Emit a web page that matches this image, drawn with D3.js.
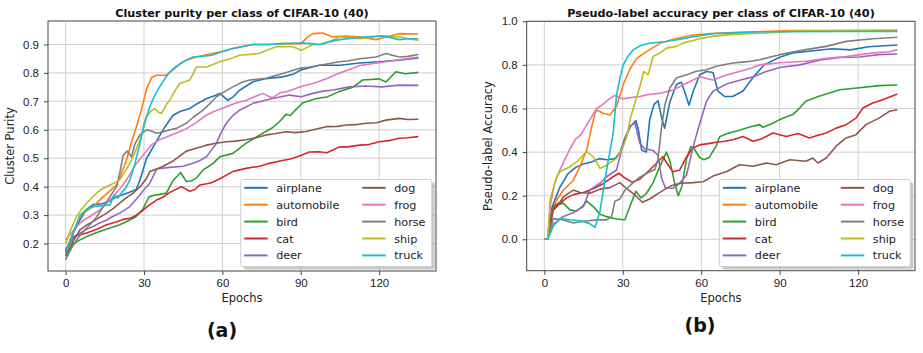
<!DOCTYPE html>
<html>
<head>
<meta charset="utf-8">
<script src="https://cdn.jsdelivr.net/npm/d3@7"></script>
<style>
  body { margin: 0; background: #fff; }
  svg { font-family: "DejaVu Sans", sans-serif; }
</style>
</head>
<body>
<div id="chart"></div>
<script>
// class names and tab10 colours
const classes = ["airplane", "automobile", "bird", "cat", "deer", "dog", "frog", "horse", "ship", "truck"];
const colors = ["#1f77b4", "#ff7f0e", "#2ca02c", "#d62728", "#9467bd", "#8c564b", "#e377c2", "#7f7f7f", "#bcbd22", "#17becf"];
const xTicks = [0, 30, 60, 90, 120];
const purityTicks = [0.2, 0.3, 0.4, 0.5, 0.6, 0.7, 0.8, 0.9];
const accTicks = [0.0, 0.2, 0.4, 0.6, 0.8, 1.0];

// (a) cluster purity, [epoch, value]
const purAirplane = [[0,0.17],[3,0.24],[5.5,0.283],[8,0.32],[10.5,0.337],[14,0.34],[17,0.35],[19.5,0.365],[23,0.375],[27,0.39],[28.5,0.425],[31,0.5],[34.8,0.56],[38,0.61],[41,0.65],[44,0.665],[47.5,0.675],[50,0.69],[54,0.71],[57,0.72],[59,0.728],[62,0.704],[64,0.715],[66.6,0.739],[71.7,0.769],[76.8,0.78],[83,0.786],[87,0.795],[90,0.81],[97,0.827],[105,0.827],[112.5,0.835],[120,0.839],[127.7,0.845],[135,0.853]];
const purAutomobile = [[0,0.175],[3,0.24],[5.5,0.295],[8,0.315],[10.5,0.33],[14.4,0.365],[17,0.385],[19.5,0.406],[21.5,0.45],[23.3,0.494],[25,0.55],[27.1,0.611],[29,0.67],[31,0.745],[33,0.785],[34.8,0.792],[38.6,0.792],[41,0.81],[43.5,0.83],[46.2,0.845],[50,0.856],[56,0.868],[60,0.875],[64,0.886],[71.7,0.9],[78,0.9],[83,0.903],[90,0.903],[92.5,0.925],[94.6,0.938],[98.4,0.94],[102,0.927],[107,0.93],[112,0.927],[118.8,0.917],[124,0.93],[127.7,0.938],[135,0.937]];
const purBird = [[0,0.16],[3,0.2],[5.5,0.213],[9,0.228],[13,0.242],[17,0.255],[20.7,0.266],[24,0.28],[27,0.295],[29.5,0.32],[32,0.365],[34,0.37],[36,0.373],[38.6,0.378],[41,0.42],[44,0.45],[46.2,0.418],[48,0.42],[50,0.43],[52.6,0.459],[54.5,0.47],[56.4,0.482],[59,0.505],[64,0.517],[69,0.552],[74,0.58],[79.3,0.608],[82,0.63],[84.4,0.655],[86,0.65],[88,0.67],[90.8,0.695],[96,0.71],[100,0.715],[104.8,0.735],[110,0.75],[113.7,0.775],[120,0.779],[122.6,0.768],[126.4,0.804],[130,0.797],[135,0.802]];
const purCat = [[0,0.17],[3,0.225],[8,0.237],[12,0.25],[15.7,0.266],[19,0.275],[22,0.285],[25,0.29],[27.1,0.3],[29.7,0.318],[32,0.335],[34.8,0.353],[37,0.362],[39.9,0.38],[44.3,0.4],[47.5,0.384],[49.5,0.39],[51.3,0.406],[54,0.41],[56,0.415],[59,0.428],[64,0.453],[66.6,0.459],[70,0.466],[74.3,0.472],[78,0.482],[82,0.49],[86,0.497],[89.5,0.508],[93.3,0.522],[97,0.523],[100,0.519],[104.8,0.54],[108,0.54],[112.5,0.546],[116,0.548],[120,0.558],[124,0.562],[127.7,0.57],[131,0.572],[135,0.576]];
const purDeer = [[0,0.18],[3,0.22],[5.5,0.237],[8,0.25],[10.5,0.26],[13,0.272],[15.7,0.283],[18,0.295],[20.7,0.307],[24.6,0.33],[28.4,0.371],[30,0.39],[32.2,0.412],[34.8,0.462],[37,0.465],[39.9,0.468],[44.9,0.472],[48.8,0.482],[51,0.49],[53.9,0.505],[55.5,0.525],[57.7,0.552],[59.5,0.59],[61.5,0.623],[64,0.65],[66.6,0.669],[71.7,0.693],[76,0.703],[79.3,0.71],[85.7,0.722],[90.2,0.716],[94.6,0.728],[98,0.735],[102.3,0.74],[108.6,0.751],[115,0.754],[121,0.751],[127.7,0.757],[135,0.756]];
const purDog = [[0,0.155],[3,0.21],[5.5,0.248],[8,0.265],[10.5,0.277],[13,0.292],[15.7,0.307],[18,0.322],[20.7,0.342],[23,0.36],[25.8,0.377],[28.5,0.4],[31,0.43],[32.2,0.453],[34.8,0.462],[37,0.47],[41.1,0.49],[44,0.51],[46.2,0.525],[50,0.535],[53.9,0.546],[57,0.552],[61.5,0.558],[65,0.56],[69,0.565],[72,0.57],[76.8,0.582],[80,0.586],[84.4,0.593],[88,0.59],[92,0.594],[96,0.603],[99.7,0.611],[104,0.612],[107.4,0.617],[111,0.618],[115,0.623],[119,0.625],[122.6,0.634],[127.7,0.64],[131,0.636],[135,0.637]];
const purFrog = [[0,0.213],[2,0.235],[4.2,0.26],[6.5,0.28],[9.3,0.295],[13.1,0.318],[15.5,0.34],[18.2,0.365],[21,0.395],[23.3,0.424],[25,0.45],[27,0.48],[30,0.515],[33,0.548],[36,0.565],[40,0.58],[45,0.598],[47.5,0.611],[50,0.625],[53.9,0.652],[57,0.665],[61.5,0.681],[65,0.693],[69.2,0.704],[72,0.715],[75.5,0.728],[78,0.716],[79.3,0.713],[82,0.73],[84.4,0.734],[90.2,0.752],[95.9,0.766],[100,0.78],[104.8,0.8],[107.4,0.808],[112.5,0.826],[120,0.836],[127.7,0.846],[135,0.856]];
const purHorse = [[0,0.143],[2,0.18],[4.2,0.213],[7,0.245],[9.3,0.266],[12,0.295],[14.4,0.33],[17,0.365],[19.5,0.4],[20.7,0.447],[22,0.51],[23.5,0.525],[25.2,0.505],[26.5,0.55],[28.4,0.582],[31,0.6],[33,0.595],[34.8,0.588],[37,0.592],[40,0.6],[42.4,0.605],[46.2,0.623],[49,0.645],[52.6,0.669],[55,0.69],[57.7,0.716],[61,0.735],[64,0.751],[67,0.765],[70.4,0.775],[76.8,0.781],[80,0.79],[83.2,0.798],[89.5,0.816],[93,0.82],[97.2,0.827],[104.8,0.839],[108,0.842],[112.5,0.85],[118.8,0.856],[122.6,0.868],[125,0.862],[127.7,0.856],[131,0.858],[135,0.865]];
const purShip = [[0,0.2],[2,0.25],[4.2,0.295],[6,0.32],[8,0.342],[10,0.36],[11.8,0.377],[13.5,0.39],[15.7,0.4],[18,0.41],[20.7,0.424],[22.5,0.45],[24.6,0.482],[26.5,0.52],[28.4,0.564],[30,0.61],[31,0.646],[32.5,0.665],[34.1,0.675],[35.5,0.662],[36.7,0.658],[38.6,0.69],[39.9,0.704],[42,0.74],[43.7,0.763],[47.5,0.775],[49,0.8],[50,0.821],[54,0.821],[59,0.839],[63,0.85],[66.6,0.862],[74,0.868],[77,0.88],[80.6,0.892],[87,0.892],[90.2,0.88],[92,0.888],[94.6,0.9],[98,0.9],[101,0.91],[104.8,0.927],[112.5,0.92],[116,0.925],[121.4,0.93],[127.7,0.927],[131,0.92],[135,0.914]];
const purTruck = [[0,0.165],[3,0.24],[5.5,0.3],[8,0.32],[10.5,0.33],[14,0.333],[17,0.336],[18.5,0.37],[20,0.36],[21.5,0.38],[23,0.395],[24.6,0.424],[26.5,0.48],[28.4,0.55],[30,0.62],[32.2,0.68],[34,0.72],[36,0.751],[38,0.78],[39.9,0.804],[42,0.82],[44.9,0.839],[48.8,0.856],[52,0.858],[56.4,0.863],[60,0.875],[64,0.886],[71.7,0.9],[78,0.9],[83,0.903],[90.8,0.905],[94,0.903],[97.2,0.9],[101,0.91],[104.8,0.917],[110,0.922],[115,0.927],[121.4,0.93],[124,0.925],[127.7,0.917],[131,0.92],[135,0.92]];

// (b) pseudo-label accuracy, [epoch, value]
const accAirplane = [[0,0],[1.3,0],[3,0.15],[6,0.24],[9,0.3],[12,0.33],[15,0.345],[18,0.355],[21,0.37],[24,0.365],[27,0.37],[29,0.4],[31,0.47],[33,0.52],[35,0.545],[36,0.5],[37.2,0.41],[39,0.4],[40.3,0.55],[42,0.62],[43.5,0.635],[45,0.55],[46,0.51],[48,0.63],[50.5,0.71],[52.4,0.72],[54.4,0.65],[55.3,0.615],[57,0.68],[59.4,0.755],[62,0.77],[64.5,0.765],[66.4,0.68],[69,0.655],[72,0.655],[76,0.68],[80,0.745],[84,0.8],[90,0.835],[95,0.855],[103,0.865],[110,0.874],[117,0.869],[124,0.883],[130,0.888],[135,0.891]];
const accAutomobile = [[0,0],[1.3,0],[2.2,0.104],[4.7,0.18],[7.3,0.226],[11,0.27],[13.6,0.333],[16.2,0.41],[18.1,0.517],[19.4,0.578],[20,0.593],[22.5,0.578],[25.1,0.57],[27.6,0.61],[30.2,0.71],[32.7,0.78],[35.3,0.83],[39.1,0.861],[44.2,0.899],[50,0.92],[56.9,0.937],[65,0.945],[75,0.95],[95,0.957],[115,0.958],[135,0.958]];
const accBird = [[0,0],[1.3,0],[2.2,0.11],[4.7,0.16],[7.3,0.165],[9.8,0.135],[12.4,0.13],[14.9,0.155],[16.2,0.175],[18.7,0.15],[21.3,0.115],[23.8,0.104],[27.6,0.093],[30.8,0.09],[33,0.16],[35,0.22],[37,0.19],[39,0.21],[41.6,0.26],[44,0.33],[46.7,0.4],[48,0.36],[50,0.25],[51.2,0.2],[52.5,0.24],[54.4,0.37],[56,0.425],[57,0.42],[59.4,0.375],[61,0.365],[63,0.375],[65.8,0.43],[67,0.47],[70,0.485],[74.6,0.5],[78.5,0.515],[82.3,0.526],[83.6,0.514],[87,0.53],[90,0.549],[95,0.572],[97.6,0.602],[100,0.633],[105,0.656],[113,0.686],[120.5,0.695],[128,0.705],[135,0.708]];
const accCat = [[0,0],[1.3,0],[3.4,0.134],[6,0.165],[8.5,0.19],[11.1,0.205],[14.9,0.215],[18.7,0.232],[22.5,0.255],[26.3,0.287],[28.5,0.303],[31,0.28],[33.5,0.262],[36.5,0.276],[40.3,0.318],[42.9,0.349],[45.4,0.379],[46.7,0.352],[49.2,0.31],[51.8,0.318],[54.4,0.379],[56.9,0.42],[59.4,0.433],[63.2,0.44],[65.8,0.445],[69,0.45],[72.1,0.457],[76,0.472],[79.8,0.45],[83,0.46],[87.4,0.488],[92.5,0.472],[97,0.485],[101.4,0.465],[104,0.475],[107.8,0.488],[111.6,0.51],[115.4,0.526],[119.2,0.556],[121.8,0.602],[125.6,0.625],[129.4,0.64],[135,0.667]];
const accDeer = [[0,0],[1.3,0],[3.4,0.07],[7.3,0.105],[11.1,0.123],[14.9,0.15],[17.4,0.226],[21.3,0.257],[23.8,0.287],[27.6,0.318],[30.2,0.44],[32.7,0.517],[34.6,0.535],[36.5,0.44],[38.4,0.415],[41.6,0.407],[43.5,0.385],[44.8,0.281],[46.3,0.235],[49.2,0.234],[51.8,0.257],[54.4,0.295],[56.9,0.425],[59.4,0.53],[62,0.633],[64.5,0.679],[69.6,0.712],[74.7,0.73],[79.8,0.745],[84.9,0.77],[90,0.788],[97.7,0.8],[105.2,0.822],[113,0.834],[120.6,0.836],[127.9,0.847],[135,0.85]];
const accDog = [[0,0],[1.3,0],[3.4,0.15],[6,0.17],[7.3,0.195],[9.8,0.215],[11.1,0.226],[13.6,0.215],[17.4,0.211],[21.3,0.23],[25.1,0.237],[28.9,0.26],[31.5,0.232],[34,0.21],[37.5,0.17],[40.3,0.185],[44.2,0.215],[48,0.243],[51.8,0.257],[56.9,0.26],[60.7,0.264],[64.5,0.29],[69.6,0.31],[74.6,0.342],[79.8,0.335],[84.9,0.35],[88.7,0.342],[93.8,0.365],[100,0.358],[102.7,0.373],[104.6,0.35],[107.8,0.373],[111.6,0.427],[115.4,0.465],[119.2,0.48],[123,0.526],[128,0.556],[131.9,0.587],[135,0.594]];
const accFrog = [[0,0],[1.3,0],[2.2,0.15],[4,0.26],[6,0.32],[8,0.37],[10,0.42],[12,0.46],[14,0.48],[16,0.52],[18,0.56],[20,0.6],[22.5,0.62],[25,0.645],[27,0.66],[30,0.645],[33,0.65],[36.5,0.655],[40.3,0.665],[44.2,0.67],[49.2,0.685],[54.3,0.716],[59.4,0.746],[64.5,0.731],[69.6,0.754],[74.6,0.77],[79,0.785],[82.3,0.8],[90,0.81],[100,0.817],[107.8,0.83],[115.4,0.838],[125.6,0.855],[132,0.86],[135,0.87]];
const accHorse = [[0,0],[1.3,0],[3.4,0.095],[7.3,0.089],[11.1,0.075],[14.9,0.083],[20,0.089],[23.8,0.089],[25.7,0.104],[27,0.175],[28.9,0.185],[30.8,0.225],[34,0.26],[36.5,0.285],[40.3,0.31],[42.3,0.32],[43.5,0.37],[44.8,0.51],[46.1,0.617],[48,0.694],[50.5,0.74],[54.4,0.755],[58.2,0.771],[62,0.778],[65.8,0.794],[72.1,0.809],[78.5,0.816],[82.3,0.824],[90,0.847],[100,0.87],[107.8,0.885],[115.4,0.908],[125.6,0.92],[135,0.927]];
const accShip = [[0,0],[1.3,0],[2.2,0.18],[4.7,0.287],[6,0.31],[9.8,0.333],[12.4,0.356],[16.2,0.402],[18.7,0.379],[21.3,0.325],[23.8,0.341],[27.6,0.37],[30,0.42],[31.5,0.47],[33,0.56],[35,0.64],[36.5,0.7],[38,0.77],[39.7,0.755],[41.6,0.84],[44.2,0.855],[46.7,0.877],[50.5,0.885],[53,0.9],[56.9,0.912],[59.4,0.92],[65,0.932],[72,0.94],[82,0.945],[95,0.955],[115,0.958],[135,0.96]];
const accTruck = [[0,0],[1.3,0],[3.4,0.06],[6,0.095],[9.8,0.09],[13.6,0.085],[17.4,0.072],[19.4,0.055],[21.3,0.13],[23.8,0.318],[26.3,0.486],[27.6,0.66],[28.9,0.74],[30.2,0.8],[32,0.84],[34,0.869],[37,0.89],[40.3,0.899],[46.7,0.907],[52,0.918],[56.9,0.929],[64.5,0.943],[72,0.947],[82.3,0.952],[95,0.952],[115,0.953],[135,0.953]];

const puritySeries = [purAirplane, purAutomobile, purBird, purCat, purDeer, purDog, purFrog, purHorse, purShip, purTruck];
const accSeries = [accAirplane, accAutomobile, accBird, accCat, accDeer, accDog, accFrog, accHorse, accShip, accTruck];

const width = 923, height = 353;
const svg = d3.select("#chart").append("svg")
    .attr("width", width)
    .attr("height", height);

function drawPanel(opts) {
    const x = d3.scaleLinear().domain([-6.75, 141.75]).range([opts.left, opts.right]);
    const y = d3.scaleLinear().domain(opts.yDomain).range([opts.bottom, opts.top]);
    const g = svg.append("g");

    // grid
    g.selectAll("line.vgrid").data(xTicks).join("line")
        .attr("x1", d => x(d)).attr("x2", d => x(d))
        .attr("y1", opts.top).attr("y2", opts.bottom)
        .attr("stroke", "#d0d0d0").attr("stroke-width", 1);
    g.selectAll("line.hgrid").data(opts.yTicks).join("line")
        .attr("class", "hgrid")
        .attr("x1", opts.left).attr("x2", opts.right)
        .attr("y1", d => y(d)).attr("y2", d => y(d))
        .attr("stroke", "#d0d0d0").attr("stroke-width", 1);

    // lines
    const line = d3.line().x(d => x(d[0])).y(d => y(d[1]));
    const clipId = "clip" + opts.id;
    svg.append("clipPath").attr("id", clipId).append("rect")
        .attr("x", opts.left).attr("y", opts.top)
        .attr("width", opts.right - opts.left).attr("height", opts.bottom - opts.top);
    g.append("g").attr("clip-path", `url(#${clipId})`)
        .selectAll("path").data(opts.series).join("path")
        .attr("d", line)
        .attr("fill", "none")
        .attr("stroke", (d, i) => colors[i])
        .attr("stroke-width", 1.6)
        .attr("stroke-linejoin", "round");

    // axes
    const xAxis = d3.axisBottom(x).tickValues(xTicks).tickSize(4).tickPadding(4);
    const yAxis = d3.axisLeft(y).tickValues(opts.yTicks).tickSize(4).tickPadding(5).tickFormat(d3.format(".1f"));
    const gx = g.append("g").attr("transform", `translate(0,${opts.bottom})`).call(xAxis);
    const gy = g.append("g").attr("transform", `translate(${opts.left},0)`).call(yAxis);
    [gx, gy].forEach(a => {
        a.select(".domain").remove();
        a.selectAll(".tick line").attr("stroke", "#444");
        a.selectAll(".tick text").attr("fill", "#222").style("font-size", "11.5px");
    });

    g.append("rect")
        .attr("x", opts.left).attr("y", opts.top)
        .attr("width", opts.right - opts.left).attr("height", opts.bottom - opts.top)
        .attr("fill", "none").attr("stroke", "#444").attr("stroke-width", 1);

    // texts
    g.append("text").attr("x", opts.titleX).attr("y", 16.5)
        .attr("text-anchor", "middle").style("font-size", "11.2px").style("font-weight", "bold")
        .attr("fill", "#111").text(opts.title);
    g.append("text").attr("x", (opts.left + opts.right) / 2).attr("y", 302)
        .attr("text-anchor", "middle").style("font-size", "11.5px").attr("fill", "#222").text("Epochs");
    g.append("text")
        .attr("transform", `translate(${opts.yLabelX},${(opts.top + opts.bottom) / 2}) rotate(-90)`)
        .attr("text-anchor", "middle").style("font-size", "11.5px").attr("fill", "#222").text(opts.yLabel);
    g.append("text").attr("x", opts.tagX).attr("y", opts.tagY)
        .attr("text-anchor", "middle").style("font-size", "19px").style("font-weight", "bold")
        .attr("fill", "#111").text(opts.tag);

    // legend
    const lg = g.append("g").attr("transform", `translate(${opts.legendX},179.5)`);
    const lw = 191, lh = 87;
    lg.append("rect").attr("x", 3).attr("y", 3).attr("width", lw).attr("height", lh)
        .attr("rx", 2).attr("fill", "#888").attr("opacity", 0.45);
    lg.append("rect").attr("width", lw).attr("height", lh).attr("rx", 2)
        .attr("fill", "#fff").attr("stroke", "#cfcfcf");
    const items = lg.selectAll("g.item").data(classes).join("g")
        .attr("transform", (d, i) => `translate(${i < 5 ? 3.5 : 121.5},${8.3 + (i % 5) * 16.9})`);
    items.append("line").attr("x1", 0).attr("x2", 23.5)
        .attr("stroke", (d, i) => colors[i]).attr("stroke-width", 2);
    items.append("text").attr("x", 32).attr("y", 4)
        .style("font-size", "11.2px").attr("fill", "#222").text(d => d);
}

drawPanel({
    id: "a", left: 48, right: 436, top: 21, bottom: 271,
    yDomain: [0.1035, 0.9825], yTicks: purityTicks, series: puritySeries,
    title: "Cluster purity per class of CIFAR-10 (40)", titleX: 242,
    yLabel: "Cluster Purity", yLabelX: 14,
    tag: "(a)", tagX: 222, tagY: 337, legendX: 240.7
});
drawPanel({
    id: "b", left: 526.7, right: 915, top: 21.3, bottom: 270.7,
    yDomain: [-0.144, 1.0], yTicks: accTicks, series: accSeries,
    title: "Pseudo-label accuracy per class of CIFAR-10 (40)", titleX: 721,
    yLabel: "Pseudo-label Accuracy", yLabelX: 492,
    tag: "(b)", tagX: 700, tagY: 332, legendX: 719.3
});
</script>
</body>
</html>
